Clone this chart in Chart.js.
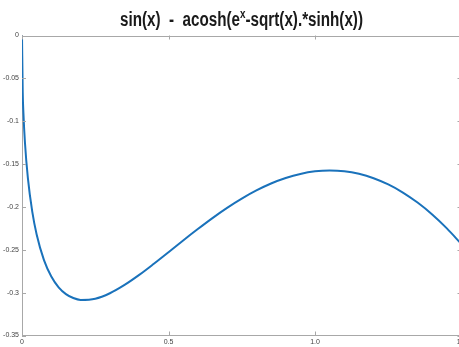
<!DOCTYPE html>
<html>
<head>
<meta charset="utf-8">
<script src="https://cdn.jsdelivr.net/npm/chart.js@4/dist/chart.umd.min.js"></script>
<style>
  html, body { margin: 0; padding: 0; background: #fff; overflow: hidden; width: 459px; height: 347px; }
  #wrap { width: 459px; height: 347px; overflow: hidden; position: relative; }
  #plot { position: absolute; left: 0; top: 0; }
</style>
</head>
<body>
<div id="wrap"><canvas id="plot" width="463" height="347"></canvas></div>
<script>
// values
var xs = [0, 0.0025, 0.005, 0.01, 0.02, 0.035, 0.05, 0.075, 0.1, 0.125, 0.15, 0.175, 0.2, 0.25, 0.3, 0.35,
          0.4, 0.45, 0.5, 0.55, 0.6, 0.65, 0.7, 0.75, 0.8, 0.85, 0.9, 0.95, 1.0, 1.05, 1.1, 1.15,
          1.2, 1.25, 1.3, 1.35, 1.4, 1.45, 1.5];
var ys = [0, -0.0664, -0.0915, -0.1245, -0.1661, -0.2055, -0.2322, -0.2621, -0.2812, -0.2938, -0.3017, -0.3063,
          -0.3085, -0.3071, -0.3007, -0.2910, -0.2793, -0.2663, -0.2528, -0.2391, -0.2258, -0.2130, -0.2011,
          -0.1903, -0.1808, -0.1727, -0.1663, -0.1615, -0.1585, -0.1575, -0.1584, -0.1614, -0.1665, -0.1738,
          -0.1832, -0.1949, -0.2088, -0.2250, -0.2434];
var xTicks = [0, 0.5, 1, 1.5];
var yTicks = [0, -0.05, -0.1, -0.15, -0.2, -0.25, -0.3, -0.35];

var axisGrey = '#a8a8a8';
var lineBlue = '#1a72bb';

// title with superscript + inward ticks / top frame line (matlab look)
var extras = {
  id: 'extras',
  afterDraw: function(chart) {
    var c = chart.ctx, a = chart.chartArea;
    var sx = chart.scales.x, sy = chart.scales.y;
    c.save();
    c.strokeStyle = axisGrey;
    c.lineWidth = 1;
    c.beginPath();
    c.moveTo(a.left, Math.round(a.top) + 0.5);
    c.lineTo(a.right, Math.round(a.top) + 0.5);
    xTicks.forEach(function(v) {
      var px = Math.round(sx.getPixelForValue(v)) + 0.5;
      c.moveTo(px, a.bottom); c.lineTo(px, a.bottom - 4);
      c.moveTo(px, a.top); c.lineTo(px, a.top + 4);
    });
    yTicks.forEach(function(v) {
      var py = Math.round(sy.getPixelForValue(v)) + 0.5;
      c.moveTo(a.left, py); c.lineTo(a.left + 4, py);
      c.moveTo(a.right - 4, py); c.lineTo(a.right, py);
    });
    c.stroke();

    // title
    var parts = [['sin(x)  -  acosh(e', 0], ['x', 1], ['-sqrt(x).*sinh(x))', 0]];
    var big = 'bold 20px "Liberation Sans Narrow", "Liberation Sans", Arial, sans-serif';
    var small = 'bold 13px "Liberation Sans Narrow", "Liberation Sans", Arial, sans-serif';
    var total = 0;
    parts.forEach(function(p) { c.font = p[1] ? small : big; total += c.measureText(p[0]).width; });
    var target = 243, scale = target / total;
    var x0 = 120, base = 26;
    c.fillStyle = '#1a1a1a';
    c.textBaseline = 'alphabetic';
    c.translate(x0, base);
    c.scale(scale, 1);
    var cx = 0;
    parts.forEach(function(p) {
      c.font = p[1] ? small : big;
      c.fillText(p[0], cx, p[1] ? -8 : 0);
      cx += c.measureText(p[0]).width;
    });
    c.restore();
  }
};

new Chart(document.getElementById('plot'), {
  type: 'scatter',
  data: {
    datasets: [{
      data: xs.map(function(x, i) { return { x: x, y: ys[i] }; }),
      showLine: true,
      borderColor: lineBlue,
      borderWidth: 2,
      pointRadius: 0,
      cubicInterpolationMode: 'monotone',
      fill: false
    }]
  },
  options: {
    responsive: false,
    animation: false,
    layout: { autoPadding: false, padding: { top: 35.5, right: 1.5, bottom: 0, left: 0 } },
    plugins: { legend: { display: false }, tooltip: { enabled: false } },
    scales: {
      x: {
        type: 'linear', min: 0, max: 1.5,
        afterBuildTicks: function(s) { s.ticks = xTicks.map(function(v) { return { value: v }; }); },
        afterFit: function(s) { s.height = 11.5; s.paddingLeft = 0; s.paddingRight = 0; },
        grid: { display: true, drawOnChartArea: false, drawTicks: false, color: axisGrey },
        border: { color: axisGrey, width: 1 },
        ticks: { padding: 2, font: { size: 7, family: 'Liberation Sans, Arial' }, color: '#444', maxRotation: 0 }
      },
      y: {
        type: 'linear', min: -0.35, max: 0,
        afterBuildTicks: function(s) { s.ticks = yTicks.map(function(v) { return { value: v }; }); },
        afterFit: function(s) { s.width = 22; s.paddingTop = 0; s.paddingBottom = 0; },
        grid: { display: true, drawOnChartArea: false, drawTicks: false, color: axisGrey },
        border: { color: axisGrey, width: 1 },
        ticks: { padding: 3, font: { size: 7, family: 'Liberation Sans, Arial' }, color: '#444',
                 callback: function(v) { return String(Math.round(v * 100) / 100); } }
      }
    }
  },
  plugins: [extras]
});
</script>
</body>
</html>
